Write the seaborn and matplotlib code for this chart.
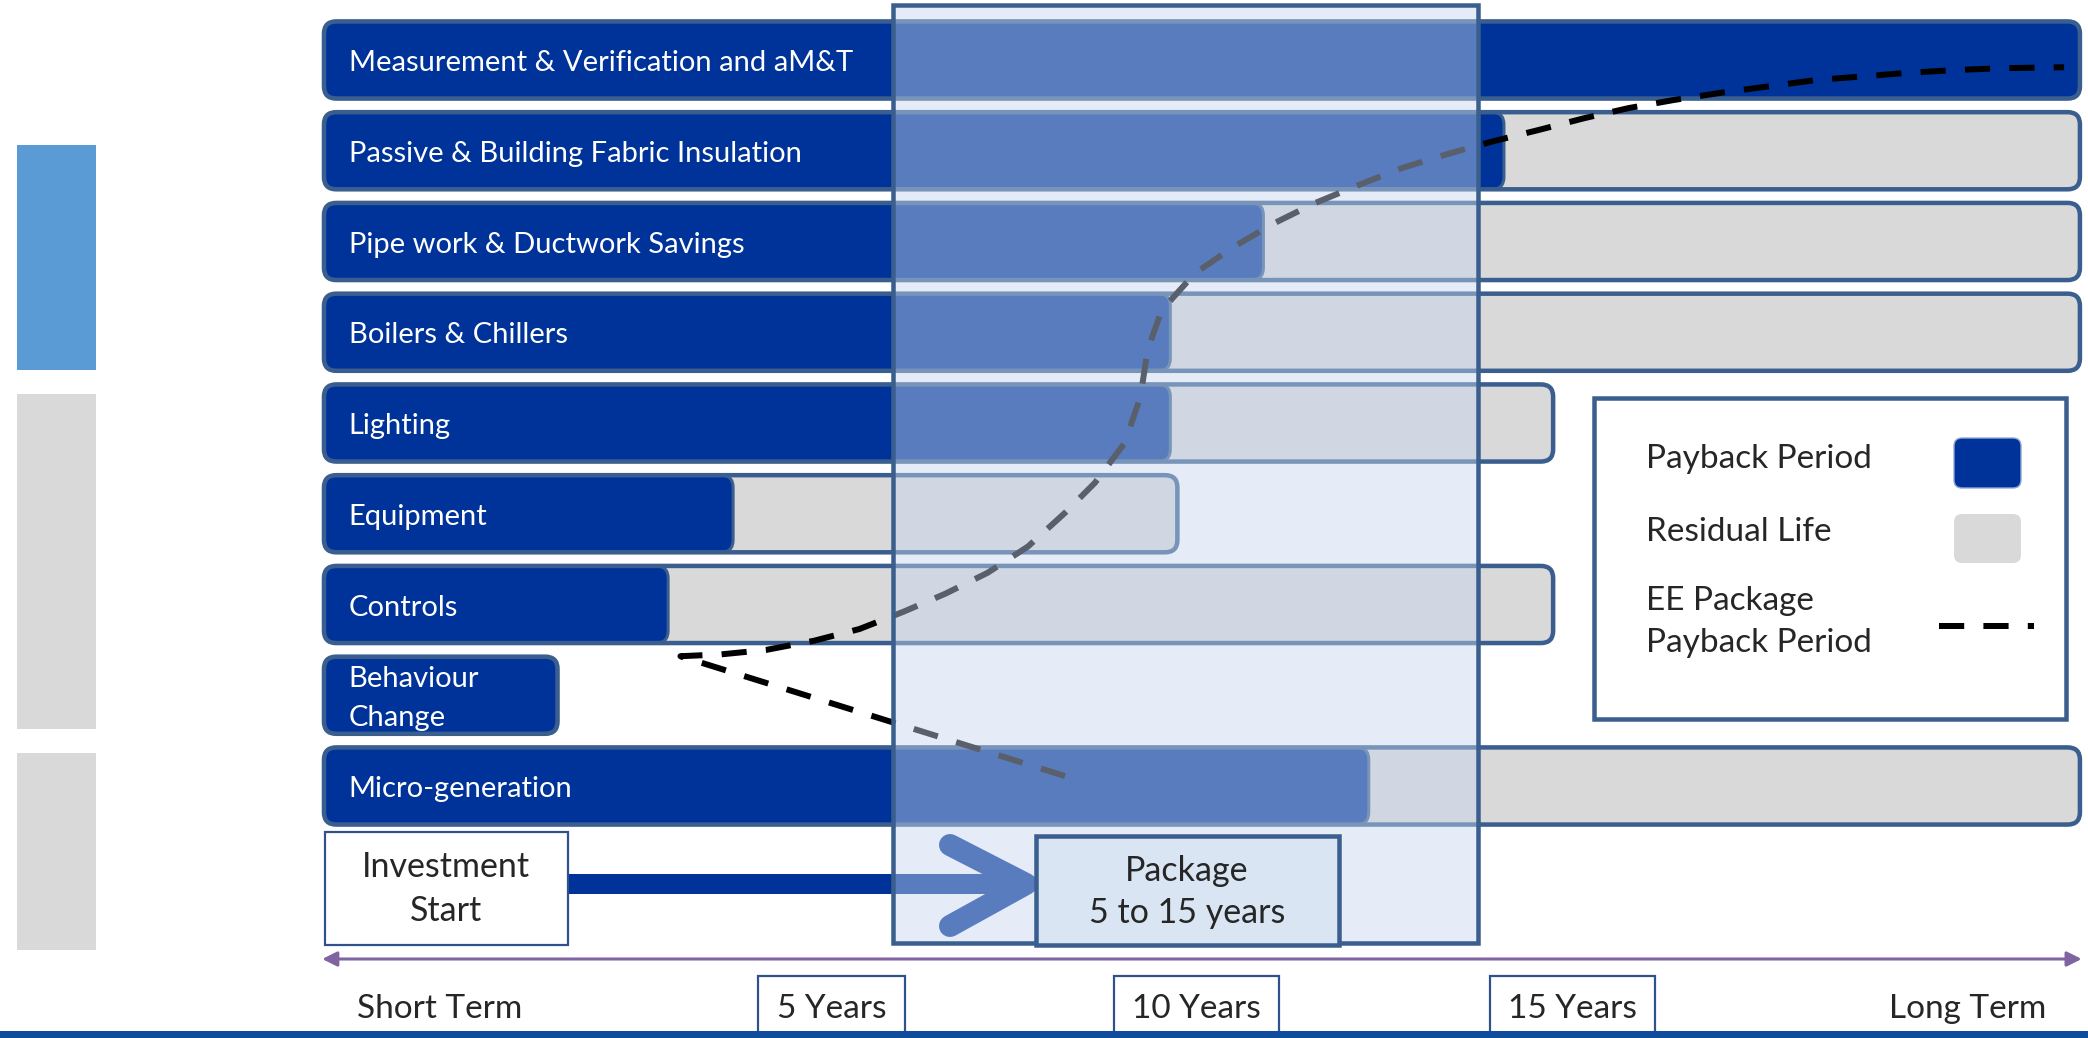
import matplotlib
matplotlib.use("Agg")
import matplotlib.pyplot as plt
import matplotlib.transforms as mtransforms
from matplotlib.patches import FancyBboxPatch, Rectangle
import pandas as pd
import seaborn as sns

# timeline position of each measure: 0 = investment start, 100 = far end of chart
measures = ["Measurement & Verification and aM&T",
            "Passive & Building Fabric Insulation",
            "Pipe work & Ductwork Savings",
            "Boilers & Chillers",
            "Lighting",
            "Equipment",
            "Controls",
            "Behaviour\nChange",
            "Micro-generation"]
payback_end = [100, 67.2, 53.5, 48.2, 48.2, 23.3, 19.6, 13.3, 59.5]
life_end = [100, 100, 100, 100, 70.0, 48.6, 70.0, 13.3, 100]

timeline_labels = ["Short Term", "5 Years", "10 Years", "15 Years", "Long Term"]
timeline_pos = [6.6, 28.9, 49.7, 71.1, 93.6]
boxed_labels = ["5 Years", "10 Years", "15 Years"]

package_window = [32.4, 65.7]

# EE package payback curve (timeline position, row position)
curve_x = [42.2, 20.3, 22.6, 25.2, 27.9, 30.5, 33.0, 35.4, 37.8, 40.1, 42.2,
           43.9, 45.6, 46.5, 46.9, 47.7, 49.6, 51.8, 54.1, 56.4, 58.9, 61.4,
           64.1, 66.5, 69.2, 71.8, 74.3, 76.9, 79.6, 82.3, 85.0, 87.7, 90.3,
           93.0, 95.7, 99.1]
curve_y = [7.89, 6.57, 6.55, 6.50, 6.40, 6.27, 6.08, 5.88, 5.65, 5.36, 4.99,
           4.66, 4.22, 3.71, 3.20, 2.76, 2.35, 2.06, 1.80, 1.58, 1.38, 1.19,
           1.03, 0.90, 0.77, 0.64, 0.53, 0.44, 0.36, 0.29, 0.22, 0.18, 0.14,
           0.11, 0.09, 0.08]

NAVY = "#003399"
GREY = "#D9D9D9"
EDGE = "#3A5F8F"
W, H = 2088, 1038
X0, X1 = -18.45, 100.46
Y0, Y1 = -0.661, 10.777
ASPECT = (W / (X1 - X0)) / (H / (Y1 - Y0))
PX = 0.72  # points per pixel at dpi 100
DASH = (0, (4.2, 3.2))

sns.set_style("white")
plt.rcParams['font.family'] = ['Lato', 'DejaVu Sans']

fig = plt.figure(figsize=(W / 100, H / 100), dpi=100)
ax = fig.add_axes([0, 0, 1, 1])

data = pd.DataFrame({"measure": measures, "payback": payback_end, "life": life_end})


def round_bars(patches, **kw):
    for p in list(patches):
        x, y, w, h = p.get_x(), p.get_y(), p.get_width(), p.get_height()
        p.remove()
        ax.add_patch(FancyBboxPatch((x, y), w, h,
                                    boxstyle="round,pad=0,rounding_size=0.7",
                                    mutation_aspect=ASPECT, **kw))


n = len(ax.patches)
sns.barplot(data=data, y="measure", x="life", orient="h", color=GREY,
            width=0.85, errorbar=None, ax=ax)
life_bars = ax.patches[n:]
bounds = [(p.get_x(), p.get_y(), p.get_width(), p.get_height()) for p in life_bars]
round_bars(life_bars, fc=GREY, ec="none", zorder=2)

n = len(ax.patches)
sns.barplot(data=data, y="measure", x="payback", orient="h", color=NAVY,
            width=0.85, errorbar=None, ax=ax)
round_bars(ax.patches[n:], fc=NAVY, ec=EDGE, lw=3 * PX, zorder=3)

# outer outline of each measure's whole life
for x, y, w, h in bounds:
    ax.add_patch(FancyBboxPatch((x, y), w, h,
                                boxstyle="round,pad=0,rounding_size=0.7",
                                mutation_aspect=ASPECT, fc="none", ec=EDGE,
                                lw=4.5 * PX, zorder=4))

for i, label in enumerate(measures):
    ax.text(1.4, i + 0.035, label, color="white", fontsize=21, va="center",
            ha="left", linespacing=1.6, zorder=5)

deco = mtransforms.Affine2D().scale(1 / W, -1 / H).translate(0, 1) + fig.transFigure
blend = mtransforms.blended_transform_factory(ax.transData, deco)

# side strips
ax.add_patch(Rectangle((17, 145), 79, 225, transform=deco, fc="#5B9BD5", ec="none", zorder=1))
ax.add_patch(Rectangle((17, 394), 79, 335, transform=deco, fc=GREY, ec="none", zorder=1))
ax.add_patch(Rectangle((17, 753), 79, 197, transform=deco, fc=GREY, ec="none", zorder=1))

# payback curve
ax.plot(curve_x, curve_y, color="black", lw=6 * PX, linestyle=DASH,
        solid_capstyle="butt", zorder=5)

# investment arrow
ax.plot([568, 1026], [884, 884], transform=deco, color=NAVY, lw=20 * PX,
        solid_capstyle="butt", zorder=5)
ax.plot([950, 1026, 950], [845, 884, 926], transform=deco, color=NAVY,
        lw=22 * PX, solid_capstyle="round", solid_joinstyle="round", zorder=5)

# package window overlay
pw = package_window[1] - package_window[0]
ax.add_patch(Rectangle((package_window[0], 5), pw, 938, transform=blend,
                       fc="#C6D6EE", alpha=0.45, ec="none", zorder=6))
ax.add_patch(Rectangle((package_window[0], 5), pw, 938, transform=blend,
                       fc="none", ec=EDGE, lw=4.5 * PX, zorder=7))

# investment start and package boxes
ax.add_patch(Rectangle((325, 832), 243, 113, transform=deco, fc="white",
                       ec="#2F528F", lw=2.2 * PX, zorder=8))
ax.text(446, 889, "Investment\nStart", transform=deco, ha="center",
        va="center", fontsize=24.5, linespacing=1.45, zorder=9)
ax.add_patch(Rectangle((1036, 836), 303, 109, transform=deco, fc="#DAE5F4",
                       ec=EDGE, lw=4.5 * PX, zorder=8))
ax.text(1187, 892, "Package\n5 to 15 years", transform=deco, ha="center",
        va="center", fontsize=24.5, linespacing=1.4, zorder=9)

# timeline arrow and labels
ax.annotate("", xy=(100.1, 959), xytext=(-0.1, 959), xycoords=blend,
            textcoords=blend,
            arrowprops=dict(arrowstyle="<|-|>", color="#8064A2", lw=2.2,
                            mutation_scale=22, shrinkA=0, shrinkB=0), zorder=5)
for label, pos in zip(timeline_labels, timeline_pos):
    box = None
    if label in boxed_labels:
        box = dict(boxstyle="square,pad=0.55", fc="white", ec="#2F528F", lw=2.2 * PX)
    ax.text(pos, 1009, label, transform=blend, ha="center", va="center",
            fontsize=24, bbox=box, zorder=8)
ax.add_patch(Rectangle((0, 1031), W, 12, transform=deco, fc="#0F4C9E",
                       ec="none", zorder=10))

# legend
ax.add_patch(Rectangle((1594, 398), 472, 321, transform=deco, fc="white",
                       ec=EDGE, lw=4.5 * PX, zorder=8))
ax.text(1646, 459, "Payback Period", transform=deco, va="center", fontsize=24, zorder=9)
ax.text(1646, 532, "Residual Life", transform=deco, va="center", fontsize=24, zorder=9)
ax.text(1646, 622, "EE Package\nPayback Period", transform=deco, va="center",
        fontsize=24, linespacing=1.5, zorder=9)
ax.add_patch(FancyBboxPatch((1954, 438), 67, 50, boxstyle="round,pad=0,rounding_size=8",
                            transform=deco, fc=NAVY, ec="#8FA8D6", lw=1, zorder=9))
ax.add_patch(FancyBboxPatch((1954, 514), 67, 49, boxstyle="round,pad=0,rounding_size=8",
                            transform=deco, fc=GREY, ec="none", zorder=9))
ax.plot([1939, 2034], [626, 626], transform=deco, color="black", lw=6 * PX,
        linestyle=DASH, zorder=9)

ax.set_xlim(X0, X1)
ax.set_ylim(Y1, Y0)
ax.axis("off")

fig.savefig("out.png", dpi=100)
